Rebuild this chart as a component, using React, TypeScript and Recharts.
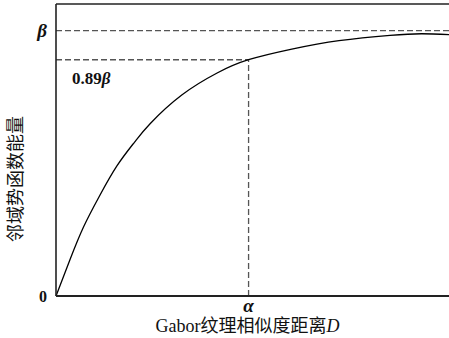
import { LineChart, Line, XAxis, YAxis, ReferenceLine } from 'recharts';

// Gabor texture distance D vs. neighbourhood potential energy (β normalised to 1)
const distance = [0, 0.35, 0.7, 1.1, 1.55, 2.0, 2.4, 3.2, 4.1, 4.9, 6.0, 7.2, 8.5, 9.3, 10];
const energy = [0, 0.135, 0.26, 0.375, 0.49, 0.58, 0.65, 0.757, 0.84, 0.89, 0.93, 0.962, 0.982, 0.988, 0.985];

const ALPHA = 4.9;
const BETA = 1;
const KNEE = 0.89;
const Y_TOP = 1.1;

const data = distance.map((d, i) => ({ d, e: energy[i] }));

const serif = "'Liberation Serif', 'Times New Roman', 'Noto Sans CJK SC', serif";
const ink = '#222';
const dash = '#555';

const YTick = ({ x, y, payload }: any) => {
  const isBeta = payload.value === BETA;
  return (
    <text
      x={x - 1}
      y={y}
      dy={6}
      textAnchor="end"
      fontFamily={serif}
      fontSize={isBeta ? 19 : 16}
      fontStyle={isBeta ? 'italic' : 'normal'}
      fontWeight="bold"
      fill="#111"
    >
      {isBeta ? 'β' : '0'}
    </text>
  );
};

const XTick = ({ x, y }: any) => (
  <text
    x={x}
    y={y}
    dy={8}
    textAnchor="middle"
    fontFamily={serif}
    fontSize={19}
    fontStyle="italic"
    fontWeight="bold"
    fill="#111"
  >
    α
  </text>
);

const XTitle = ({ viewBox }: any) => (
  <text
    x={viewBox.x + viewBox.width / 2 - 5}
    y={viewBox.y + 36}
    textAnchor="middle"
    fontFamily={serif}
    fontSize={18}
    fill="#111"
  >
    Gabor纹理相似度距离<tspan fontStyle="italic">D</tspan>
  </text>
);

const YTitle = () => (
  <text
    x={16}
    y={179}
    transform="rotate(-90 16 179)"
    textAnchor="middle"
    dominantBaseline="central"
    fontFamily={serif}
    fontSize={18}
    fill="#111"
  >
    邻域势函数能量
  </text>
);

const KneeLabel = ({ viewBox }: any) => (
  <text
    x={viewBox.x + 16}
    y={viewBox.y + 24}
    fontFamily={serif}
    fontSize={17}
    fontWeight="bold"
    fill="#111"
  >
    0.89<tspan fontStyle="italic">β</tspan>
  </text>
);

export default function App() {
  return (
    <div style={{ position: 'absolute', left: 0, top: 0, background: '#fff' }}>
      <LineChart width={449} height={338} data={data} margin={{ top: 4, right: 0, left: 0, bottom: 0 }}>
        <XAxis
          dataKey="d"
          type="number"
          domain={[0, 10]}
          ticks={[ALPHA]}
          tick={<XTick />}
          tickLine={false}
          height={42}
          axisLine={{ stroke: ink, strokeWidth: 2 }}
          label={<XTitle />}
        />
        <YAxis
          type="number"
          domain={[0, Y_TOP]}
          ticks={[0, BETA]}
          tick={<YTick />}
          tickLine={false}
          width={56}
          axisLine={{ stroke: ink, strokeWidth: 1.6 }}
          label={<YTitle />}
        />
        <ReferenceLine y={Y_TOP} stroke={ink} strokeWidth={1.6} />
        <ReferenceLine y={BETA} stroke={dash} strokeWidth={1.3} strokeDasharray="6 3" />
        <ReferenceLine
          segment={[{ x: 0, y: KNEE }, { x: ALPHA, y: KNEE }]}
          stroke={dash}
          strokeWidth={1.3}
          strokeDasharray="6 3"
          label={<KneeLabel />}
        />
        <ReferenceLine
          segment={[{ x: ALPHA, y: 0 }, { x: ALPHA, y: KNEE }]}
          stroke={dash}
          strokeWidth={1.3}
          strokeDasharray="6 3"
        />
        <Line
          type="natural"
          dataKey="e"
          stroke="#000"
          strokeWidth={1.3}
          dot={false}
          isAnimationActive={false}
        />
      </LineChart>
    </div>
  );
}
